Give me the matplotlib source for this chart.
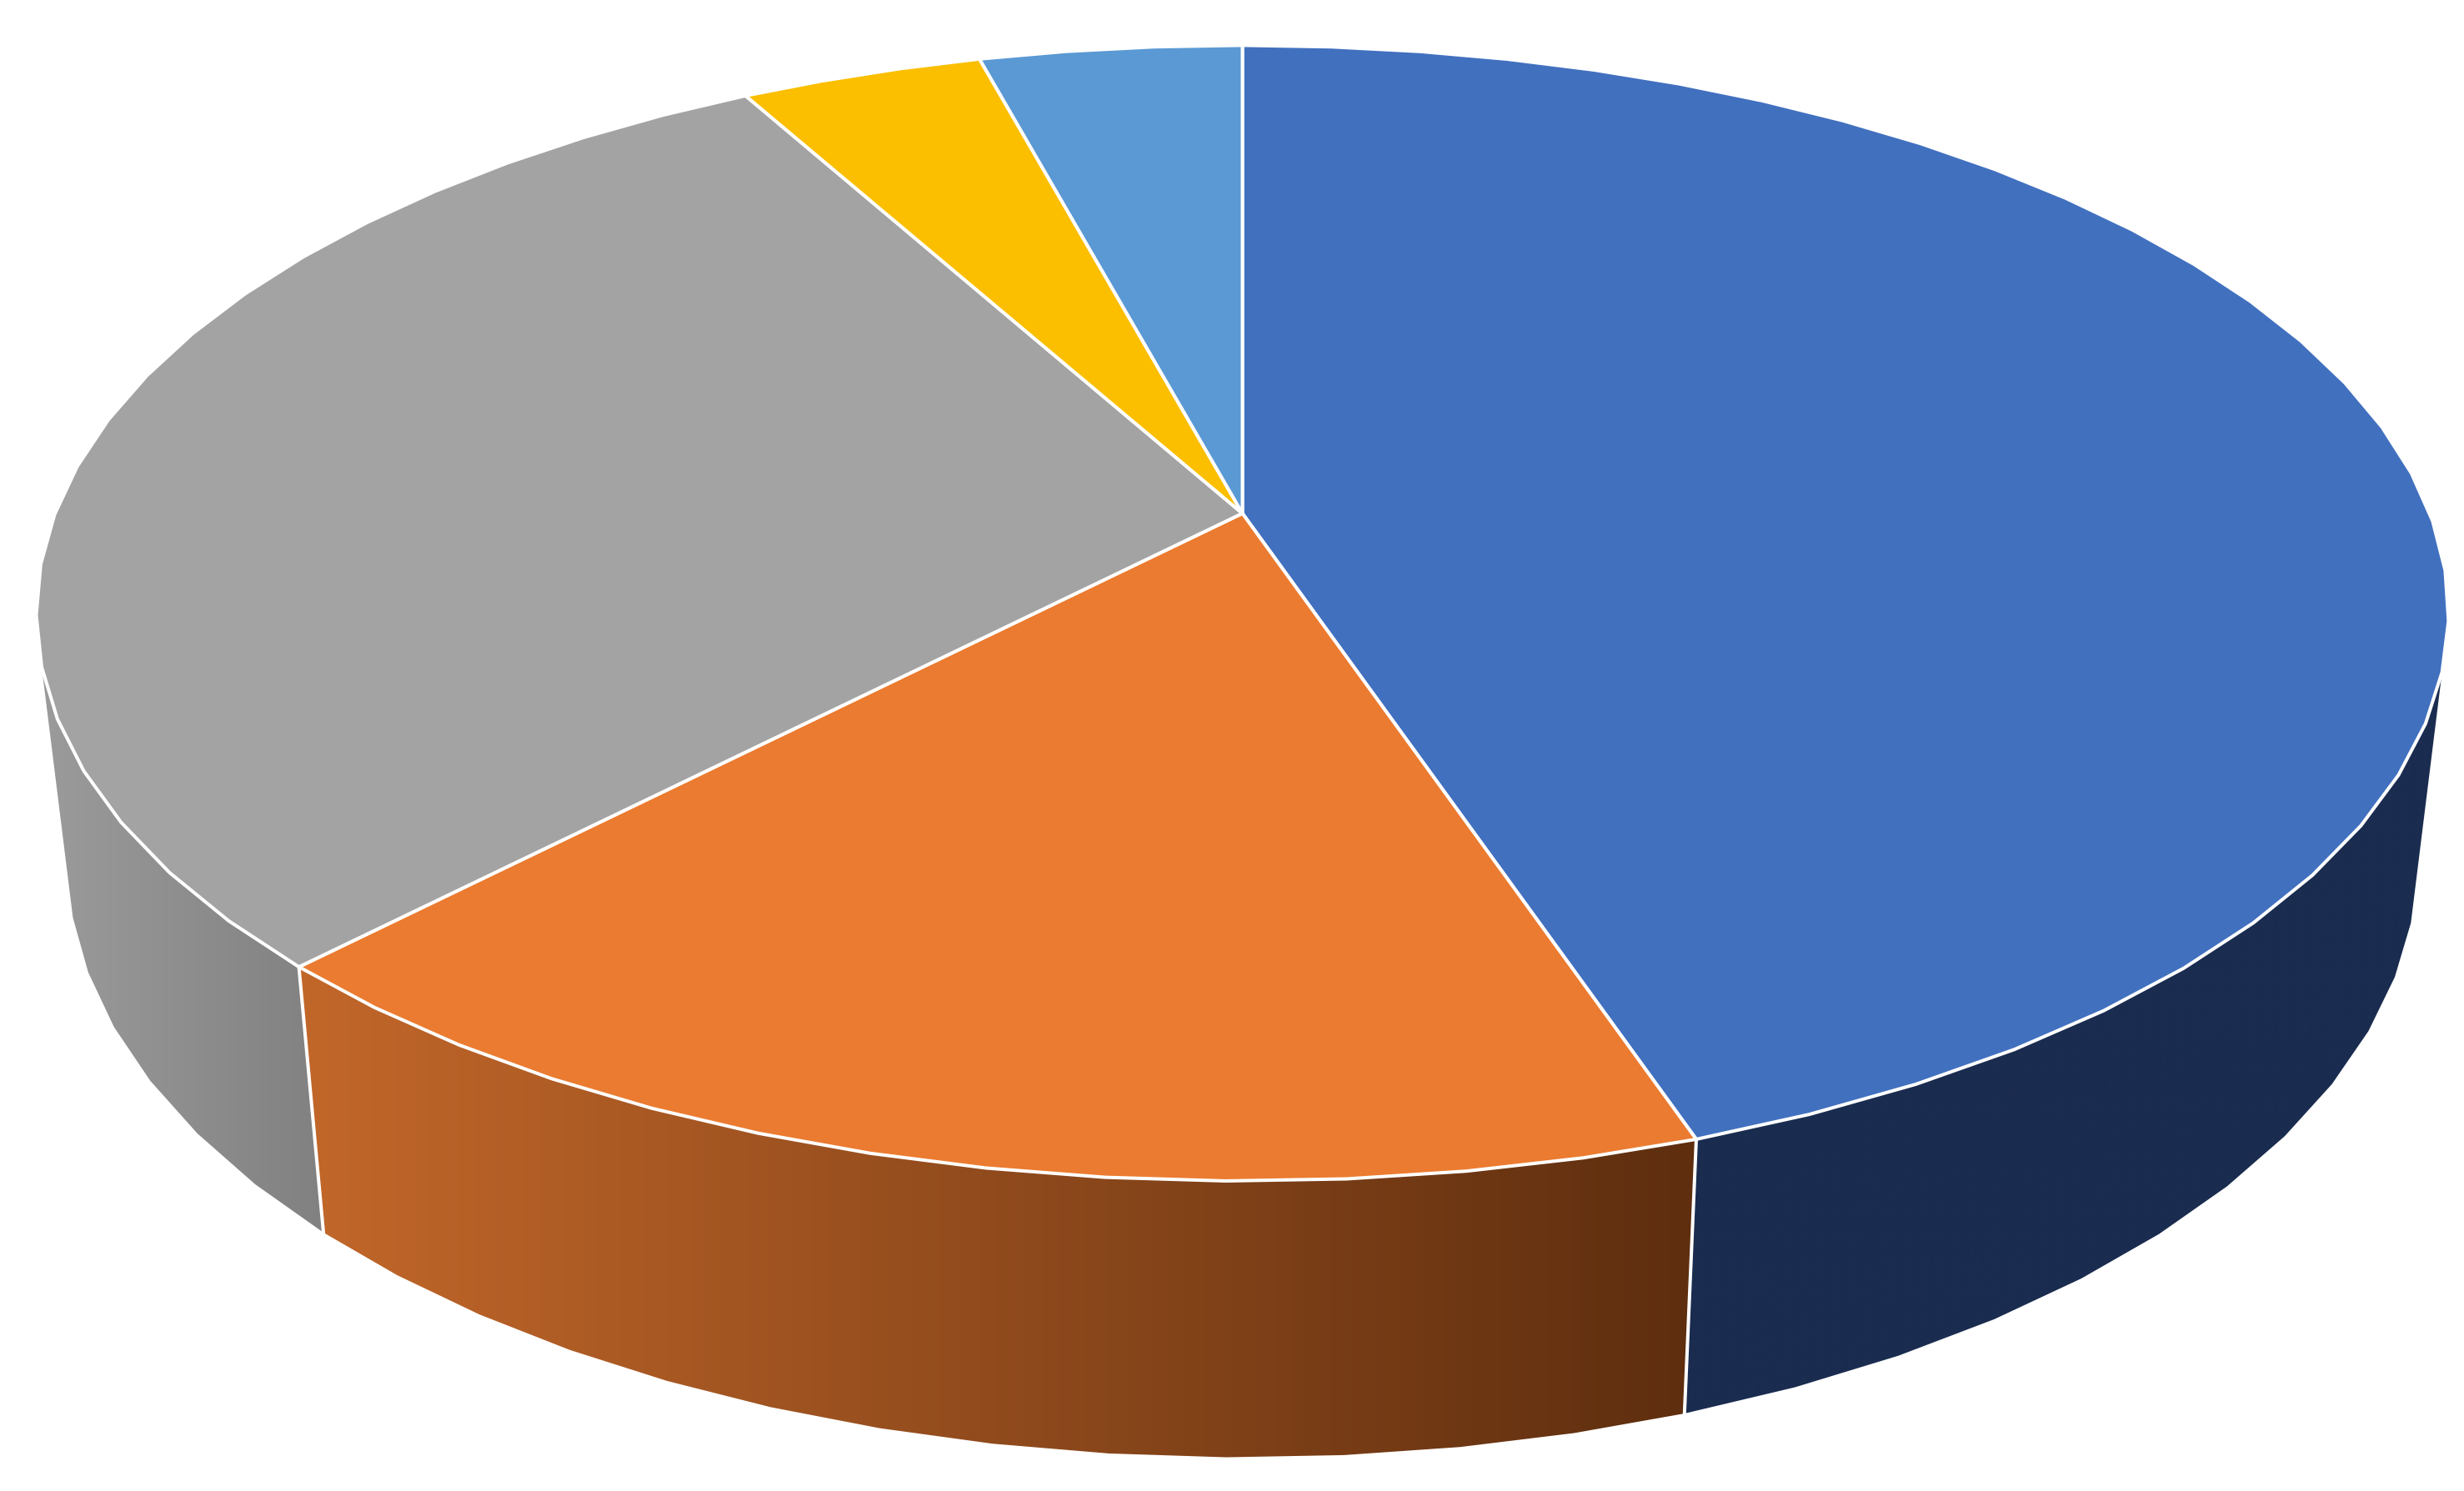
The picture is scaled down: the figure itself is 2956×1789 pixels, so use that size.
import numpy as np
import matplotlib
matplotlib.use("Agg")
import matplotlib.pyplot as plt
from matplotlib.colors import LinearSegmentedColormap
from matplotlib.patches import Polygon

categories = ["A", "B", "C", "D", "E"]
values = [44.84, 17.37, 29.77, 3.85, 4.17]
top_colors = ["#4170BF", "#EB7B30", "#A3A3A3", "#FBBF00", "#5A99D4"]
wall_left = ["#1A2C4F", "#C2672A", "#9B9B9B", "#000000", "#000000"]
wall_right = ["#1A2C4F", "#5E2E0F", "#818181", "#000000", "#000000"]

W, H = 2956, 1790
CX, CY = 1490.5, 617.0
A, B, K = 1424.5, 660.3, -0.1757
SX, Y0, SY = 0.974, 908.5, 1.05
STEP = 5.0
VIS_MIN, VIS_MAX = 103.0, 255.0
EDGE_LW = 2.9


def top_point(theta):
    t = np.radians(theta)
    u, v = np.sin(t), -np.cos(t)
    d = 1 + K * v
    return CX + A * u / d, CY + B * v / d


def bottom_point(theta):
    x, y = top_point(theta)
    return CX + SX * (x - CX), Y0 + SY * (y - CY)


def slice_angles(a0, a1):
    n = max(1, int((a1 - a0) / STEP + 0.5))
    return a0 + (a1 - a0) * np.arange(n + 1) / n


fig = plt.figure(figsize=(W / 100, H / 100), dpi=100)
ax = fig.add_axes([0, 0, 1, 1])

total = sum(values)
edges = np.concatenate([[0], np.cumsum(values) / total * 360])

# side walls
for i in range(len(values)):
    ang = slice_angles(edges[i], edges[i + 1])
    ang = ang[(ang >= VIS_MIN) & (ang <= VIS_MAX)]
    if len(ang) < 2:
        continue
    pts_t = np.array([top_point(a) for a in ang])
    pts_b = np.array([bottom_point(a) for a in ang[::-1]])
    pts = np.vstack([pts_t, pts_b])
    x0, x1 = pts[:, 0].min(), pts[:, 0].max()
    y0, y1 = pts[:, 1].min(), pts[:, 1].max()
    cmap = LinearSegmentedColormap.from_list("w", [wall_left[i], wall_right[i]])
    grad = np.linspace(0, 1, 512).reshape(1, -1)
    im = ax.imshow(grad, extent=[x0, x1, y1, y0], cmap=cmap, aspect="auto",
                   interpolation="bilinear", zorder=1)
    im.set_clip_path(Polygon(pts, closed=True, transform=ax.transData))

# white seams between visible walls
for e in edges[1:-1]:
    if VIS_MIN <= e <= VIS_MAX:
        xt, yt = top_point(e)
        xb, yb = bottom_point(e)
        ax.plot([xt, xb], [yt, yb], color="white", linewidth=EDGE_LW, zorder=2)

# top face
for i in range(len(values)):
    ang = slice_angles(edges[i], edges[i + 1])
    rim = np.array([top_point(a) for a in ang])
    pts = np.vstack([[CX, CY], rim])
    ax.add_patch(Polygon(pts, closed=True, facecolor=top_colors[i], edgecolor="white",
                         linewidth=EDGE_LW, joinstyle="round", zorder=3))

ax.set_xlim(0, W)
ax.set_ylim(H, 0)
ax.axis("off")
fig.savefig("out.png", dpi=100, facecolor="white")
